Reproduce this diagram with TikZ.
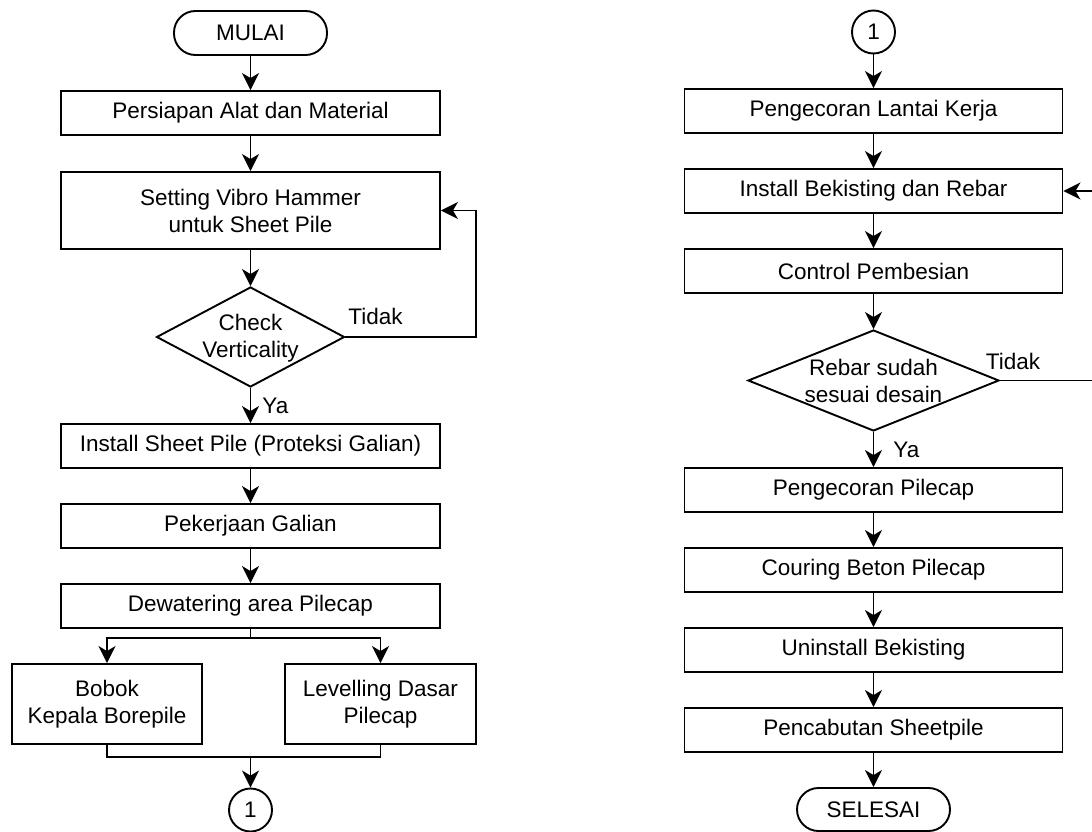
\documentclass[tikz,border=0pt]{standalone}
\usepackage{fontspec}
\setmainfont{Liberation Sans}
\usetikzlibrary{shapes.geometric,arrows.meta}
\begin{document}
\begin{tikzpicture}[x=1pt,y=-1pt,
  font=\fontsize{22.5}{27}\selectfont,
  every node/.style={inner sep=0pt},
  proc/.style={draw, line width=1.9pt, minimum width=379pt, minimum height=44pt, align=center},
  term/.style={draw, line width=1.9pt, rounded corners=21.5pt, minimum width=153pt, minimum height=44pt},
  conn/.style={draw, circle, line width=1.9pt, minimum size=43pt},
  dec/.style={draw, diamond, line width=1.9pt},
  flow/.style={line width=1.9pt, -{Stealth[length=17pt,width=17pt,inset=5pt]}},
  wire/.style={line width=1.9pt}]
\useasboundingbox (0,0) rectangle (1092,832);

% ---- left column ----
\node[term] (mulai) at (250.5,33) {MULAI};
\node[proc] (alat) at (250.5,113) {Persiapan Alat dan Material};
\node[proc, minimum height=77pt] (vibro) at (250.5,210.5) {Setting Vibro Hammer\\untuk Sheet Pile};
\node[dec, minimum width=188pt, minimum height=100pt] (cek) at (250.5,337) {};
\node[align=center] (cektxt) at (250.5,338) {Check\\Verticality};
\node[proc] (sheet) at (250.5,446) {Install Sheet Pile (Proteksi Galian)};
\node[proc] (galian) at (250.5,526) {Pekerjaan Galian};
\node[proc] (dewa) at (250.5,606) {Dewatering area Pilecap};
\node[proc, minimum width=190pt, minimum height=80pt] (bobok) at (107,704) {Bobok\\Kepala Borepile};
\node[proc, minimum width=191pt, minimum height=80pt] (level) at (380.5,704) {Levelling Dasar\\Pilecap};
\node[conn] (satuA) at (250.5,810) {1};

\node (tidakA) at (375.5,316) {Tidak};
\coordinate (loopA) at (476,337);
\coordinate (merge) at (250.5,757);

\draw[flow] (mulai) -- (alat);
\draw[flow] (alat) -- (vibro);
\draw[flow] (vibro) -- (cek);
\draw[flow] (cek) -- node[anchor=west, xshift=11pt] (yaA) {Ya} (sheet);
\draw[flow] (cek.east) -- (loopA) |- (vibro.east);
\draw[flow] (sheet) -- (galian);
\draw[flow] (galian) -- (dewa);
\draw[flow] (dewa.south) -- ++(0,9) -| (bobok.north);
\draw[flow] (dewa.south) -- ++(0,9) -| (level.north);
\draw[wire] (bobok.south) |- (merge) -| (level.south);
\draw[flow] (merge) -- (satuA);

% ---- right column ----
\node[conn] (satuB) at (873.5,32) {1};
\node[proc, minimum width=378pt] (lantai) at (873.5,111) {Pengecoran Lantai Kerja};
\node[proc, minimum width=378pt] (bekist) at (873.5,191) {Install Bekisting dan Rebar};
\node[proc, minimum width=378pt] (besi) at (873.5,271) {Control Pembesian};
\node[dec, minimum width=251pt, minimum height=101pt] (rebar) at (873.5,380.5) {};
\node[align=center] (rebartxt) at (873.5,381) {Rebar sudah\\sesuai desain};
\node[proc, minimum width=378pt] (cor) at (873.5,490) {Pengecoran Pilecap};
\node[proc, minimum width=378pt] (curing) at (873.5,570) {Couring Beton Pilecap};
\node[proc, minimum width=378pt] (bongkar) at (873.5,650) {Uninstall Bekisting};
\node[proc, minimum width=378pt] (cabut) at (873.5,730) {Pencabutan Sheetpile};
\node[term, minimum height=43pt] (selesai) at (873.5,809.5) {SELESAI};

\node (tidakB) at (1013,361) {Tidak};
\coordinate (loopB) at (1104,380.5);

\draw[flow] (satuB) -- (lantai);
\draw[flow] (lantai) -- (bekist);
\draw[flow] (bekist) -- (besi);
\draw[flow] (besi) -- (rebar);
\draw[flow] (rebar) -- node[anchor=west, xshift=19pt] (yaB) {Ya} (cor);
\draw[flow] (rebar.east) -- (loopB) |- (bekist.east);
\draw[flow] (cor) -- (curing);
\draw[flow] (curing) -- (bongkar);
\draw[flow] (bongkar) -- (cabut);
\draw[flow] (cabut) -- (selesai);
\end{tikzpicture}
\end{document}
